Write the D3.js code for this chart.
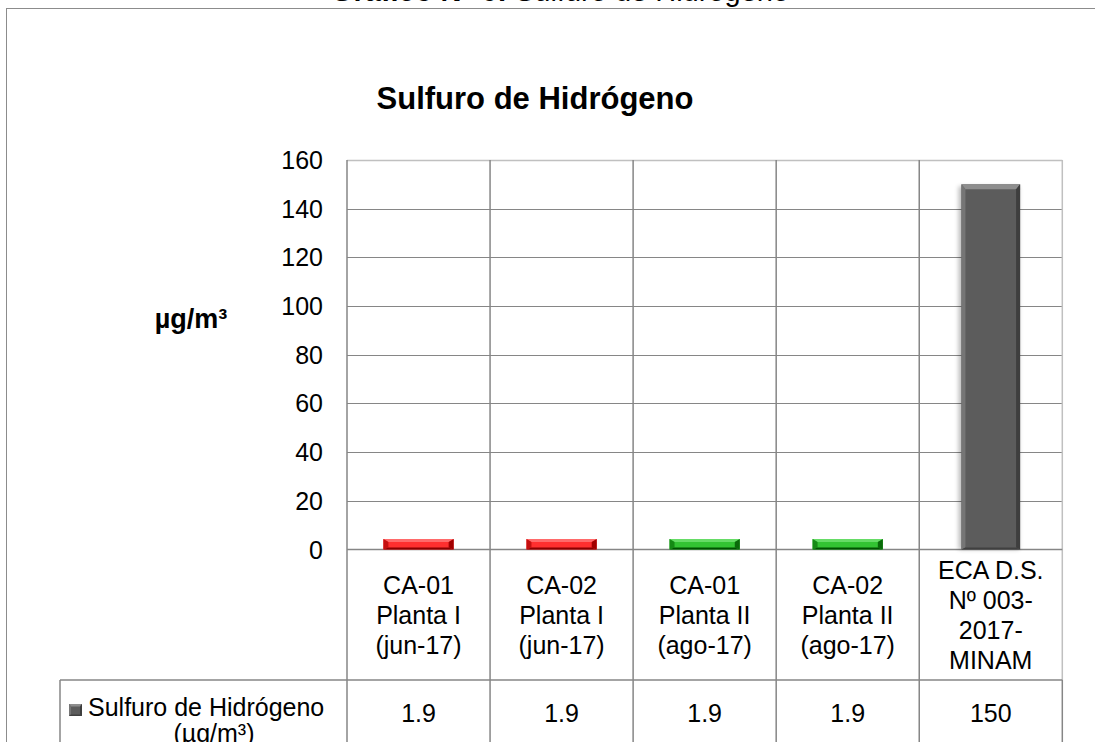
<!DOCTYPE html>
<html>
<head>
<meta charset="utf-8">
<script src="https://cdn.jsdelivr.net/npm/d3@7"></script>
<style>
  body { margin: 0; background: #fff; }
  svg { display: block; font-family: Arial, "Liberation Sans", sans-serif; }
</style>
</head>
<body>
<svg id="chart" width="1095" height="742"></svg>
<script>
// data
var categories = [
  ["CA-01", "Planta I", "(jun-17)"],
  ["CA-02", "Planta I", "(jun-17)"],
  ["CA-01", "Planta II", "(ago-17)"],
  ["CA-02", "Planta II", "(ago-17)"],
  ["ECA D.S.", "Nº 003-", "2017-", "MINAM"]
];
var values = [1.9, 1.9, 1.9, 1.9, 150];
var valueLabels = ["1.9", "1.9", "1.9", "1.9", "150"];
var yTicks = [0, 20, 40, 60, 80, 100, 120, 140, 160];
var seriesName = "Sulfuro de Hidrógeno";
var seriesUnit = "(µg/m³)";

// styles for each bar
var palette = [
  {face: "#ff2f2f", top: "#ff6a6a", left: "#c41010", right: "#a00000", bottom: "#8a0000"},
  {face: "#ff2f2f", top: "#ff6a6a", left: "#c41010", right: "#a00000", bottom: "#8a0000"},
  {face: "#33c433", top: "#66dc66", left: "#158a15", right: "#0a6a0a", bottom: "#005200"},
  {face: "#33c433", top: "#66dc66", left: "#158a15", right: "#0a6a0a", bottom: "#005200"},
  {face: "#5c5c5c", top: "#8e8e8e", left: "#767676", right: "#3e3e3e", bottom: "#404040"}
];

var svg = d3.select("#chart");

var plotL = 347, plotR = 1062.3, plotT = 160, plotB = 549.5;
var rowMid = 680, rowEnd = 760;

var x = d3.scaleBand().domain(d3.range(categories.length)).range([plotL, plotR]);
var y = d3.scaleLinear().domain([0, 160]).range([plotB, plotT]);

// outer frame
svg.append("rect").attr("x", 6.5).attr("y", 8.5).attr("width", 1200).attr("height", 800)
  .attr("fill", "none").attr("stroke", "#8c8c8c");

// caption cut at the top
var cap = svg.append("text").attr("x", 560).attr("y", 1).attr("text-anchor", "middle")
  .style("font-size", "29px").attr("fill", "#000");
cap.append("tspan").style("font-weight", "bold").text("Gráfico N° 6:");
cap.append("tspan").text(" Sulfuro de Hidrógeno");

// title
svg.append("text").attr("x", 535).attr("y", 109).attr("text-anchor", "middle")
  .style("font-size", "31px").style("font-weight", "bold")
  .text(seriesName);

// y axis label
svg.append("text").attr("x", 191).attr("y", 328).attr("text-anchor", "middle")
  .style("font-size", "27px").style("font-weight", "bold")
  .text("µg/m³");

// gridlines
svg.append("g").selectAll("line").data(yTicks.filter(function(d){ return d > 0 && d < 160; }))
  .enter().append("line")
  .attr("x1", plotL).attr("x2", plotR)
  .attr("y1", function(d){ return Math.round(y(d)) + 0.5; })
  .attr("y2", function(d){ return Math.round(y(d)) + 0.5; })
  .attr("stroke", "#868686").attr("stroke-width", 1.2);

// top and right border of plot area (light)
svg.append("line").attr("x1", plotL).attr("x2", plotR).attr("y1", plotT + 0.5).attr("y2", plotT + 0.5)
  .attr("stroke", "#c0c0c0").attr("stroke-width", 1.5);
svg.append("line").attr("x1", plotR).attr("x2", plotR).attr("y1", plotT).attr("y2", rowMid)
  .attr("stroke", "#c0c0c0").attr("stroke-width", 1.5);
svg.append("line").attr("x1", plotR).attr("x2", plotR).attr("y1", rowMid).attr("y2", rowEnd)
  .attr("stroke", "#868686").attr("stroke-width", 1.5);

// vertical category lines (continue through the table)
svg.append("g").selectAll("line").data(d3.range(categories.length))
  .enter().append("line")
  .attr("x1", function(d){ return x(d); }).attr("x2", function(d){ return x(d); })
  .attr("y1", plotT).attr("y2", rowEnd)
  .attr("stroke", "#868686").attr("stroke-width", 1.5);

// table horizontal lines
svg.append("line").attr("x1", plotL).attr("x2", plotR).attr("y1", plotB).attr("y2", plotB)
  .attr("stroke", "#868686").attr("stroke-width", 1.5);
svg.append("line").attr("x1", 60).attr("x2", plotR).attr("y1", rowMid).attr("y2", rowMid)
  .attr("stroke", "#868686").attr("stroke-width", 1.5);
svg.append("line").attr("x1", 60).attr("x2", 60).attr("y1", rowMid).attr("y2", rowEnd)
  .attr("stroke", "#868686").attr("stroke-width", 1.5);

// y tick labels
svg.append("g").selectAll("text").data(yTicks).enter().append("text")
  .attr("x", 323).attr("y", function(d){ return y(d) + 9; })
  .attr("text-anchor", "end").style("font-size", "25px")
  .text(function(d){ return d; });

// bar shadow filter
var defs = svg.append("defs");
var f = defs.append("filter").attr("id", "shadow").attr("x", "-20%").attr("y", "-5%")
  .attr("width", "140%").attr("height", "110%");
f.append("feGaussianBlur").attr("stdDeviation", 2);

// bevelled bar: bt = top, bs = sides, bb = bottom
function bevelBar(g, bx, by, bw, bh, bt, bs, bb, c) {
  var x0 = bx, x1 = bx + bw, y0 = by, y1 = by + bh;
  g.append("rect").attr("x", x0).attr("y", y0).attr("width", bw).attr("height", bh).attr("fill", c.face);
  function poly(pts, col) {
    g.append("polygon").attr("points", pts.map(function(p){ return p.join(","); }).join(" ")).attr("fill", col);
  }
  poly([[x0, y0], [x1, y0], [x1 - bs, y0 + bt], [x0 + bs, y0 + bt]], c.top);
  poly([[x0, y0], [x0 + bs, y0 + bt], [x0 + bs, y1 - bb], [x0, y1]], c.left);
  poly([[x1, y0], [x1, y1], [x1 - bs, y1 - bb], [x1 - bs, y0 + bt]], c.right);
  poly([[x0, y1], [x0 + bs, y1 - bb], [x1 - bs, y1 - bb], [x1, y1]], c.bottom);
}

// bars
var barG = svg.append("g");
values.forEach(function(v, i) {
  var bw = x.bandwidth() * 0.41;
  var bx = x(i) + (x.bandwidth() - bw) / 2;
  var by = y(v), bh = y(0) - y(v);
  var small = v < 10;
  // small bars show a thick 3D edge around them
  var edge = small ? 5.8 : 0;
  bx -= edge; bw += 2 * edge; by -= edge; bh += edge;
  if (!small) {
    barG.append("rect").attr("x", bx - 3).attr("y", by + 2).attr("width", bw + 2).attr("height", bh - 2)
      .attr("fill", "#000").attr("opacity", 0.25).attr("filter", "url(#shadow)");
    bevelBar(barG, bx, by, bw, bh, 5, 4, 2, palette[i]);
  } else {
    bevelBar(barG, bx, by, bw, bh, 3, 5, 2, palette[i]);
  }
});

// category labels
svg.append("g").selectAll("text").data(categories).enter().append("text")
  .attr("text-anchor", "middle").style("font-size", "25px")
  .each(function(lines, i) {
    var t = d3.select(this);
    var cx = x(i) + x.bandwidth() / 2;
    var first = (plotB + rowMid) / 2 - (lines.length - 1) * 30 / 2 + 9;
    lines.forEach(function(s, k) {
      t.append("tspan").attr("x", cx).attr("y", first + k * 30).text(s);
    });
  });

// value row
svg.append("g").selectAll("text").data(valueLabels).enter().append("text")
  .attr("x", function(d, i){ return x(i) + x.bandwidth() / 2; })
  .attr("y", 722).attr("text-anchor", "middle").style("font-size", "25px")
  .text(function(d){ return d; });

// legend cell
bevelBar(svg.append("g"), 69, 704, 13, 12, 2.5, 2, 1.5, palette[4]);
svg.append("text").attr("x", 88).attr("y", 716).style("font-size", "25px").text(seriesName);
svg.append("text").attr("x", 214).attr("y", 742).attr("text-anchor", "middle")
  .style("font-size", "25px").text(seriesUnit);
</script>
</body>
</html>
